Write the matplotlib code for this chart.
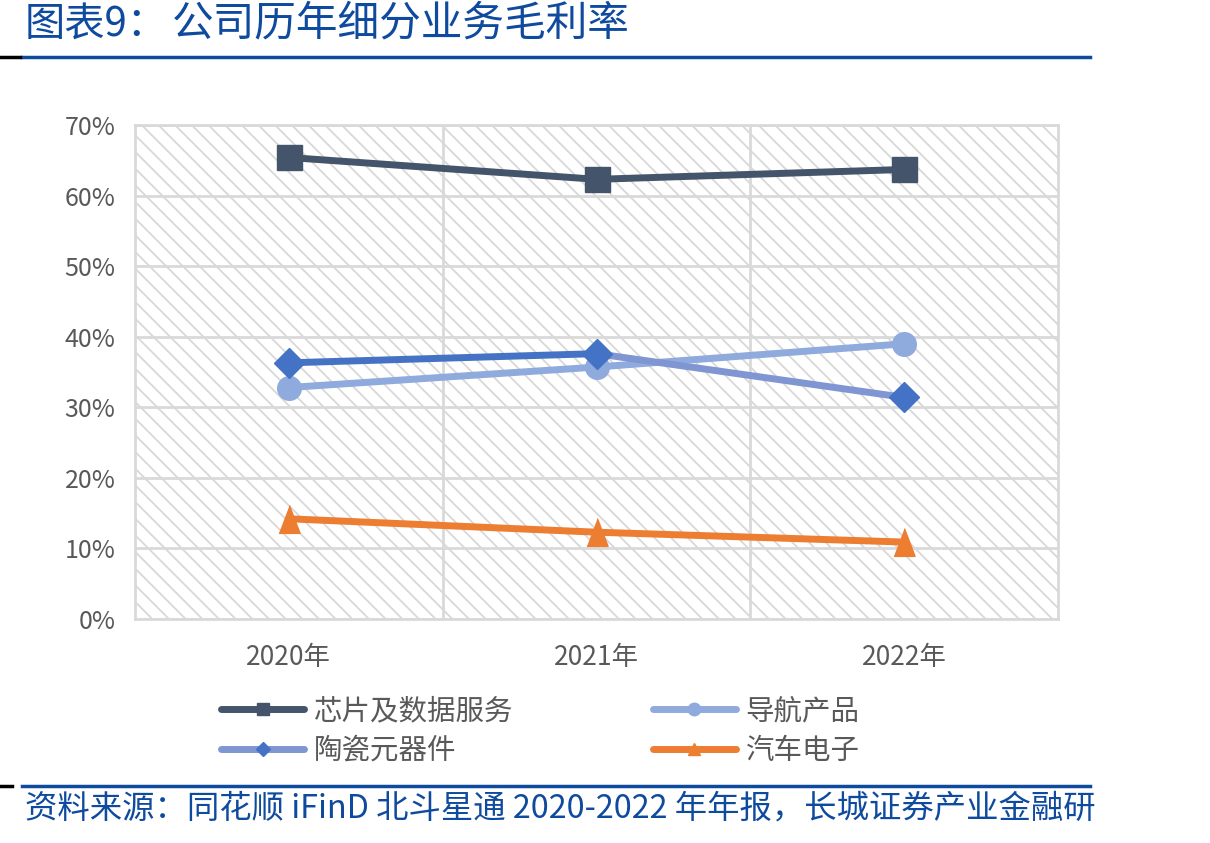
import matplotlib
matplotlib.use("Agg")
import matplotlib.pyplot as plt
from matplotlib.lines import Line2D
from matplotlib.patches import Rectangle
import numpy as np

plt.rcParams['font.family'] = ['Noto Sans CJK SC', 'DejaVu Sans']
plt.rcParams['hatch.linewidth'] = 1.3

# ---- data ----
years = ["2020年", "2021年", "2022年"]
chip = [65.4, 62.3, 63.7]        # 芯片及数据服务
nav = [32.8, 35.7, 39.0]         # 导航产品
ceramic = [36.3, 37.6, 31.4]     # 陶瓷元器件
auto = [14.2, 12.3, 10.9]        # 汽车电子
series_names = ["芯片及数据服务", "导航产品", "陶瓷元器件", "汽车电子"]
yticks = [0, 10, 20, 30, 40, 50, 60, 70]

title_a = "图表9："
title_b = "公司历年细分业务毛利率"
source = "资料来源：同花顺 iFinD 北斗星通 2020-2022 年年报，长城证券产业金融研"

# ---- styles ----
c_chip = "#44546A"
c_nav = "#8FAADC"
c_cer_m = "#4472C4"
c_cer_l2 = "#7F96D3"
c_auto = "#ED7D31"
grid_c = "#D9D9D9"
txt_c = "#595959"
blue = "#0E4A9E"

W, H = 1210, 843
fig = plt.figure(figsize=(W / 100, H / 100), dpi=100)

def fx(px):
    return px / W

def fy(py):
    return 1 - py / H

L, R, T, B = 135, 1058, 125, 619
ax = fig.add_axes([fx(L), fy(B), fx(R - L), (B - T) / H])

x = np.arange(len(years))

# hatched background
bg = Rectangle((0, 0), 1, 1, transform=ax.transAxes, facecolor="white",
               edgecolor="#D8D8D8", hatch="\\\\", lw=0, zorder=0)
ax.add_patch(bg)
ax.patch.set_visible(False)

lw = 5
ax.plot(x, chip, color=c_chip, lw=lw, marker="s", markersize=18, zorder=5,
        solid_capstyle="round")
ax.plot(x, nav, color=c_nav, lw=lw, marker="o", markersize=17, zorder=4,
        solid_capstyle="round")
ax.plot(x[:2], ceramic[:2], color=c_cer_m, lw=lw, zorder=5, solid_capstyle="round")
ax.plot(x[1:], ceramic[1:], color=c_cer_l2, lw=lw, zorder=5, solid_capstyle="round")
ax.plot(x, ceramic, color=c_cer_m, lw=0, marker="D", markersize=15, zorder=6)
tri = [(-0.38, -0.5), (0.38, -0.5), (0, 0.5)]
ax.plot(x, auto, color=c_auto, lw=lw, marker=tri, markersize=20, zorder=5,
        solid_capstyle="round")

ax.set_xlim(-0.5, len(years) - 0.5)
ax.set_ylim(0, 70)
ax.set_yticks(yticks)
ax.set_yticklabels([f"{v}%" for v in yticks])
ax.set_xticks(x)
ax.set_xticklabels(years)
ax.set_xticks([0.5, 1.5], minor=True)
ax.tick_params(axis="both", which="both", length=0, colors=txt_c, labelsize=18)
ax.tick_params(axis="y", pad=14)
ax.tick_params(axis="x", pad=18, labelsize=19)
ax.grid(axis="y", which="major", color=grid_c, lw=2, zorder=1)
ax.grid(axis="x", which="minor", color=grid_c, lw=2, zorder=1)
ax.grid(axis="x", which="major", visible=False)
for s in ax.spines.values():
    s.set_color(grid_c)
    s.set_linewidth(2)
ax.set_axisbelow(True)

# legend
handles = [
    Line2D([], [], color=c_chip, lw=5, marker="s", markersize=9, solid_capstyle="round"),
    Line2D([], [], color=c_nav, lw=5, marker="o", markersize=9, solid_capstyle="round"),
    Line2D([], [], color=c_cer_l2, lw=5, marker="D", markersize=7,
           markerfacecolor=c_cer_m, markeredgecolor=c_cer_m, solid_capstyle="round"),
    Line2D([], [], color=c_auto, lw=5, marker="^", markersize=8, solid_capstyle="round"),
]
order = [0, 2, 1, 3]
leg = fig.legend([handles[i] for i in order], [series_names[i] for i in order],
                 ncol=2, loc="upper left", bbox_to_anchor=(fx(210), fy(685)),
                 frameon=False, fontsize=20.5, handlelength=2.9, handletextpad=0.35,
                 columnspacing=4.9, labelspacing=0.34, borderaxespad=0)
for t in leg.get_texts():
    t.set_color(txt_c)

# title and rules
fig.text(fx(25), fy(24), title_a, fontsize=29, color=blue, va="center", ha="left")
fig.text(fx(172), fy(24), title_b, fontsize=30, color=blue, va="center", ha="left")
fig.add_artist(Line2D([fx(22), fx(1090)], [fy(57), fy(57)], color=blue, lw=2.5))
fig.add_artist(Line2D([fx(0), fx(20)], [fy(57), fy(57)], color="black", lw=2.5))

fig.add_artist(Line2D([fx(22), fx(1090)], [fy(786), fy(786)], color=blue, lw=2.5))
fig.add_artist(Line2D([fx(0), fx(12)], [fy(786), fy(786)], color="black", lw=2.5))
fig.text(fx(25), fy(809), source, fontsize=23.3, color=blue, va="center", ha="left")

fig.savefig("out.png", dpi=100)
